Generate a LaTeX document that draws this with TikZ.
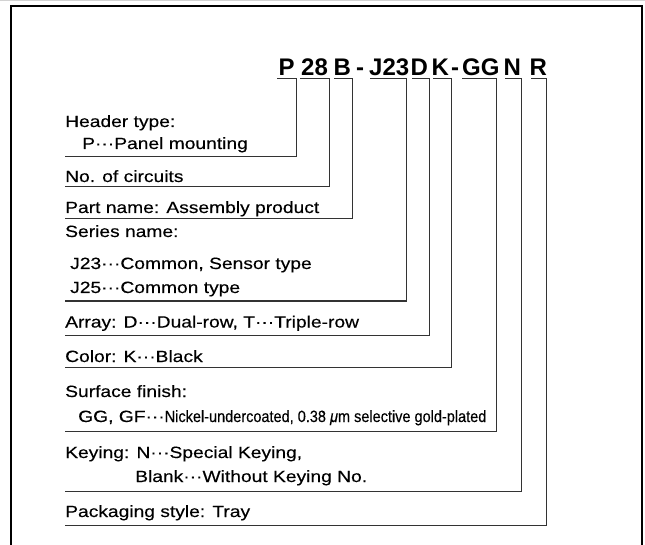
\documentclass[tikz,border=0pt]{standalone}
\usepackage{fontspec}
\setmainfont{Liberation Sans}[FakeStretch=1.18,FakeBold=0.3]
\newfontfamily\narrowfont{Liberation Sans}[FakeStretch=0.89,FakeBold=0.3]
\newfontfamily\codefont{Liberation Sans}
\begin{document}
\begin{tikzpicture}[x=1pt,y=-1pt,
  lbl/.style={anchor=base west,inner sep=0pt,font=\fontsize{16.3}{18}\selectfont},
  code/.style={anchor=base west,inner sep=0pt,font=\codefont\bfseries\fontsize{24}{26}\selectfont},
  conn/.style={draw=black!80,line width=1pt}]
\useasboundingbox (0,0) rectangle (645,545);
\draw[gray!35,line width=1pt] (0,0.5) -- (645,0.5);
\draw[line width=2pt] (11,546) -- (11,6) -- (642,6) -- (642,546);

% code pieces
\node[code] (cP)  at (278.5,75.5) {P};
\node[code] (c28) at (301,75.5) {28};
\node[code] (cB)  at (333.3,75.5) {B};
\node[code] (ch1) at (355.8,75.5) {-};
\node[code] (cJ)  at (369,75.5) {J23};
\node[code] (cD)  at (410.3,75.5) {D};
\node[code] (cK)  at (431.3,75.5) {K};
\node[code] (ch2) at (450.8,75.5) {-};
\node[code] (cG)  at (462,75.5) {GG};
\node[code] (cN)  at (503.3,75.5) {N};
\node[code] (cR)  at (529.3,75.5) {R};

% labels
\node[lbl] (l1a) at (65,127) {Header type:};
\node[lbl] (l1b) at (82,149) {P···Panel mounting};
\node[lbl] (l2)  at (65,182) {No. of circuits};
\node[lbl] (l3)  at (65,213) {Part name: Assembly product};
\node[lbl] (l4a) at (65,237) {Series name:};
\node[lbl] (l4b) at (70,269) {J23···Common, Sensor type};
\node[lbl] (l4c) at (70,293) {J25···Common type};
\node[lbl] (l5)  at (65,327.5) {Array: D···Dual-row, T···Triple-row};
\node[lbl] (l6)  at (65,362) {Color: K···Black};
\node[lbl] (l7a) at (65,397) {Surface finish:};
\node[lbl] (l7b) at (78,422) {GG, GF···{\narrowfont Nickel-undercoated, 0.38 \textit{μ}m selective gold-plated}};
\node[lbl] (l8a) at (65,458) {Keying: N···Special Keying,};
\node[lbl] (l8b) at (135,482) {Blank···Without Keying No.};
\node[lbl] (l9)  at (65,517) {Packaging style: Tray};

% connector points
\coordinate (aP) at (277,79);  \coordinate (bP) at (296,79);  \coordinate (eP) at (65,157);
\coordinate (a28) at (300,79); \coordinate (b28) at (329,79); \coordinate (e28) at (65,187);
\coordinate (aB) at (334,79);  \coordinate (bB) at (352,79);  \coordinate (eB) at (65,219);
\coordinate (aJ) at (370,79);  \coordinate (bJ) at (406,79);  \coordinate (eJ) at (65,301);
\coordinate (aD) at (412,79);  \coordinate (bD) at (429,79);  \coordinate (eD) at (65,335);
\coordinate (aK) at (433,79);  \coordinate (bK) at (451,79);  \coordinate (eK) at (65,367);
\coordinate (aG) at (462,79);  \coordinate (bG) at (496,79);  \coordinate (eG) at (65,431);
\coordinate (aN) at (505,79);  \coordinate (bN) at (521,79);  \coordinate (eN) at (65,491);
\coordinate (aR) at (531,79);  \coordinate (bR) at (546,79);  \coordinate (eR) at (65,525);

\draw[conn] (aP) -- (bP) |- (eP);
\draw[conn] (a28) -- (b28) |- (e28);
\draw[conn] (aB) -- (bB) |- (eB);
\draw[conn] (aJ) -- (bJ) |- (eJ);
\draw[conn] (aD) -- (bD) |- (eD);
\draw[conn] (aK) -- (bK) |- (eK);
\draw[conn] (aG) -- (bG) |- (eG);
\draw[conn] (aN) -- (bN) |- (eN);
\draw[conn] (aR) -- (bR) |- (eR);
\end{tikzpicture}
\end{document}
